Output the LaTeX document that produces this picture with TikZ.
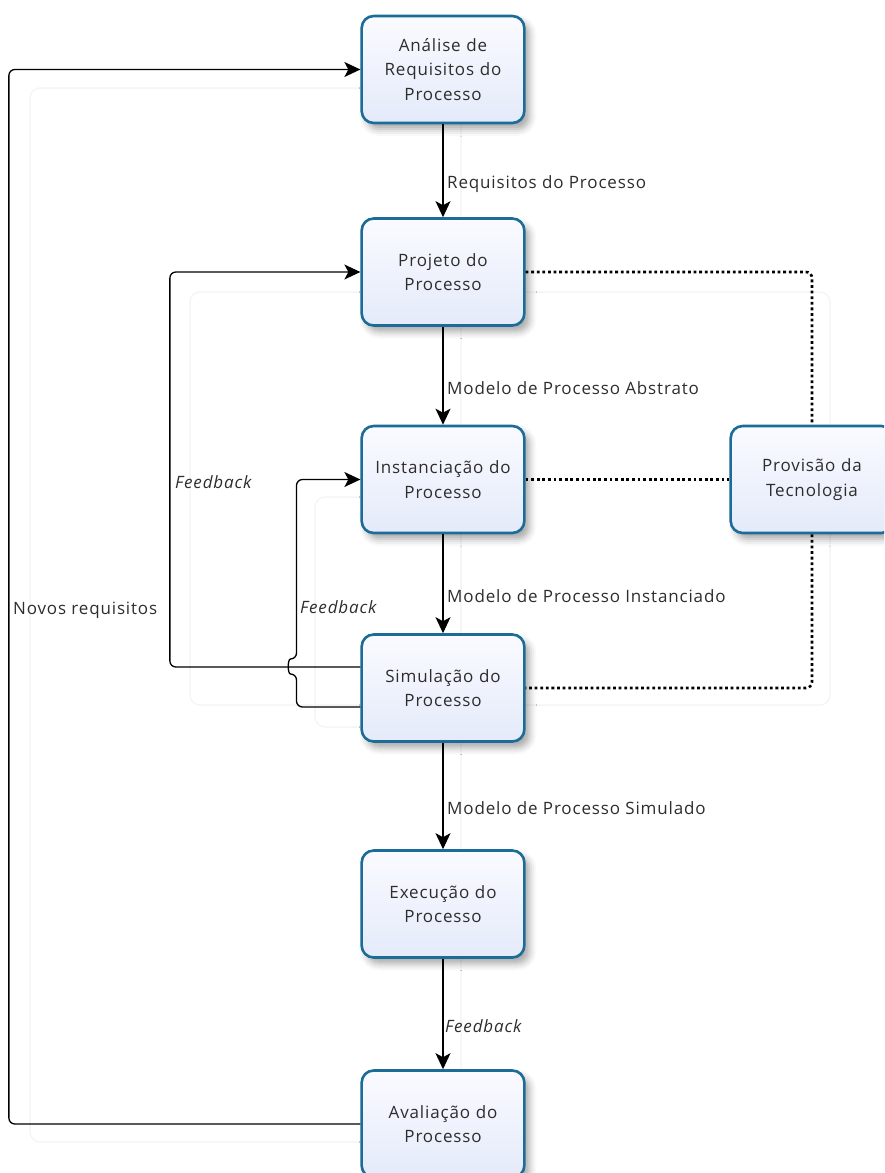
\documentclass[tikz,border=0pt]{standalone}
\usepackage{fontspec}
\setmainfont{Open Sans}[LetterSpace=5]
\usetikzlibrary{arrows.meta,shadows.blur}
\definecolor{boxline}{RGB}{28,108,152}
\definecolor{boxtop}{RGB}{250,251,255}
\definecolor{boxbot}{RGB}{228,234,250}
\definecolor{ghost}{RGB}{245,245,245}
\definecolor{ink}{RGB}{45,45,45}

\begin{document}
\begin{tikzpicture}[x=1pt,y=-1pt,
  stage/.style={draw=boxline, line width=2.6pt, rounded corners=12pt,
    top color=boxtop, bottom color=boxbot,
    minimum width=162pt, minimum height=107pt, align=center, text width=156pt,
    font=\fontsize{17}{24.5}\selectfont, text=ink,
    blur shadow={shadow xshift=5pt, shadow yshift=-6pt, shadow blur radius=7pt, shadow opacity=35}},
  flow/.style={line width=1.3pt, -{Stealth[length=16pt,width=15pt,inset=4pt]}},
  loopback/.style={flow, rounded corners=6pt},
  link/.style={line width=2.6pt, dash pattern=on 2.8pt off 2.8pt, rounded corners=6pt},
  lbl/.style={anchor=west, inner sep=0pt, font=\fontsize{17}{20}\selectfont, text=ink},
  ilbl/.style={lbl, font=\fontsize{17}{20}\selectfont\itshape},
  ghostbox/.style={draw=ghost, line width=1.5pt, rounded corners=10pt}
]
\useasboundingbox (0,0) rectangle (884,1173);
\clip (0,0) rectangle (884,1173);

% faint guide frames behind the flow
\draw[ghostbox] (30,88) rectangle (461,1142);
\draw[ghostbox] (190,292) rectangle (830,705);
\draw[ghostbox] (315,497) rectangle (461,727);

% process stages
\node[stage] (ana)  at (443,69.5)  {Análise de\\Requisitos do\\Processo};
\node[stage] (proj) at (443,272)   {Projeto do\\Processo};
\node[stage] (inst) at (443,479.5) {Instanciação do\\Processo};
\node[stage] (sim)  at (443,688)   {Simulação do\\Processo};
\node[stage] (exec) at (443,904)   {Execução do\\Processo};
\node[stage] (aval) at (443,1124)  {Avaliação do\\Processo};
\node[stage] (prov) at (812,479.5) {Provisão da\\Tecnologia};

% main flow
\draw[flow] (ana) -- (proj);
\draw[flow] (proj) -- (inst);
\draw[flow] (inst) -- (sim);
\draw[flow] (sim) -- (exec);
\draw[flow] (exec) -- (aval);

\node[lbl]  (l1) at (447,184)  {Requisitos do Processo};
\node[lbl]  (l2) at (447,388)  {Modelo de Processo Abstrato};
\node[lbl]  (l3) at (447,596)  {Modelo de Processo Instanciado};
\node[lbl]  (l4) at (447,808)  {Modelo de Processo Simulado};
\node[ilbl] (l5) at (445,1026) {Feedback};

% feedback loops
\draw[loopback] (aval.west) -- ++(-351.5,0) |- (ana.west);
\draw[loopback] ([yshift=21pt]sim.west) -- ++(-190.5,0) |- (proj.west);
\draw[loopback] ([yshift=-19pt]sim.west) -- (296.5,707) -- (296.5,674)
  .. controls (287.5,674) and (287.5,659) .. (296.5,659) |- (inst.west);

\node[lbl]  (l6) at (13,610)  {Novos requisitos};
\node[ilbl] (l7) at (175,482) {Feedback};
\node[ilbl] (l8) at (300,607) {Feedback};

% technology provision links
\draw[link] (proj.east) -| (prov.north);
\draw[link] (inst.east) -- (prov.west);
\draw[link] (prov.south) |- (sim.east);
\end{tikzpicture}
\end{document}
